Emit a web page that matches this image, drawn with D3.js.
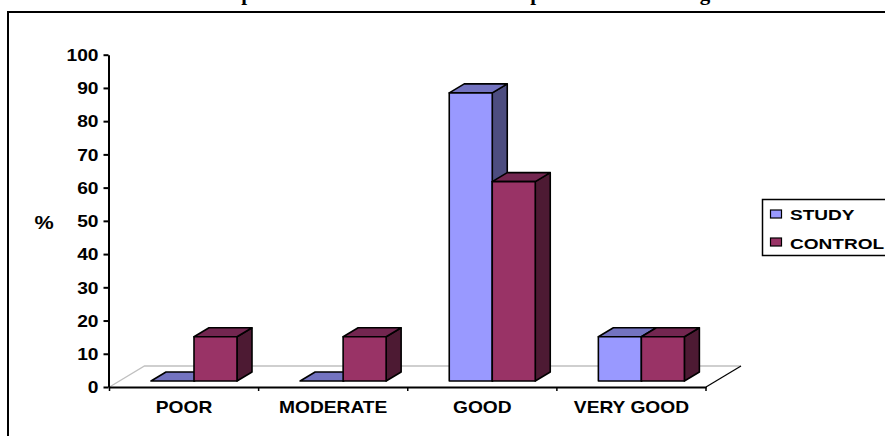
<!DOCTYPE html>
<html>
<head>
<meta charset="utf-8">
<script src="https://cdn.jsdelivr.net/npm/d3@7"></script>
<style>
  html, body { margin: 0; padding: 0; background: #fff; }
  svg { display: block; }
  text { fill: #000; font-family: "Liberation Sans", Arial, sans-serif; font-weight: bold; }
</style>
</head>
<body>
<svg id="chart" width="885" height="436"></svg>
<script>
// Percentages per rating group
const categories = ["POOR", "MODERATE", "GOOD", "VERY GOOD"];
const seriesNames = ["STUDY", "CONTROL"];
const studyValues = [0, 0, 86.7, 13.3];
const controlValues = [13.3, 13.3, 60, 13.3];
const yTicks = [0, 10, 20, 30, 40, 50, 60, 70, 80, 90, 100];
// Only the descenders of the heading stay inside the page
const headingGlyphs = [["p", 247], ["p", 536], ["g", 705]];

const faces = {
  STUDY:   { front: "#9999ff", top: "#7373c0", side: "#4d4d80" },
  CONTROL: { front: "#993366", top: "#732650", side: "#4d1a33" }
};

const svg = d3.select("#chart");
const W = 885, H = 436;

const x = d3.scaleBand().domain(categories).range([109.5, 706]);
const y = d3.scaleLinear().domain([0, 100]).range([387, 54.7]);
const inner = d3.scaleBand().domain(seriesNames).range([41.5, 41.5 + 86]);

// Oblique projection of the bars and of the floor
const barDepth = { dx: 15, dy: -9 };
const floorDepth = { dx: 35, dy: -21 };
const floorLift = 6;
const labelStretch = 1.2;

// Chart frame runs off the right and bottom of the page
svg.append("path")
  .attr("d", `M8,${H} V12 H${W}`)
  .attr("fill", "none").attr("stroke", "#000").attr("stroke-width", 2);

// Heading descenders
svg.append("g").selectAll("text").data(headingGlyphs).join("text")
  .attr("x", d => d[1]).attr("y", 0).attr("text-anchor", "middle")
  .style("font-family", '"Liberation Serif", serif')
  .style("font-size", "21px")
  .text(d => d[0]);

// Floor of the 3D plot
const [x0, x1] = x.range();
const floorY = y(0);
const floor = svg.append("g").attr("fill", "none");
floor.append("path")
  .attr("d", `M${x0},${floorY} l${floorDepth.dx},${floorDepth.dy} H${x1 + floorDepth.dx}`)
  .attr("stroke", "#c0c0c0").attr("stroke-width", 1.3);
floor.append("path")
  .attr("d", `M${x1},${floorY} l${floorDepth.dx},${floorDepth.dy}`)
  .attr("stroke", "#000").attr("stroke-width", 1.2);

// Bars: side and top faces first, front face last, control drawn over study
const rows = [];
categories.forEach((c, i) => {
  rows.push({ cat: c, series: "STUDY", value: studyValues[i] });
  rows.push({ cat: c, series: "CONTROL", value: controlValues[i] });
});
const bars = svg.append("g").attr("stroke", "#000").attr("stroke-width", 1.6).attr("stroke-linejoin", "round")
  .selectAll("g").data(rows).join("g");
const { dx, dy } = barDepth;
const geom = d => {
  const l = x(d.cat) + inner(d.series);
  const r = l + inner.bandwidth();
  const b = y(0) - floorLift;
  const t = y(d.value) - floorLift;
  return { l, r, b, t };
};
bars.append("path").attr("fill", d => faces[d.series].side).attr("d", d => {
  const { r, b, t } = geom(d);
  return `M${r},${b} V${t} l${dx},${dy} V${b + dy} Z`;
});
bars.append("path").attr("fill", d => faces[d.series].top).attr("d", d => {
  const { l, r, t } = geom(d);
  return `M${l},${t} H${r} l${dx},${dy} H${l + dx} Z`;
});
bars.append("rect").attr("fill", d => faces[d.series].front)
  .attr("x", d => geom(d).l).attr("y", d => geom(d).t)
  .attr("width", inner.bandwidth()).attr("height", d => geom(d).b - geom(d).t);

// Value axis; each label sits inside its tick group
const yAxis = svg.append("g").attr("transform", "translate(108.5,0)")
  .call(d3.axisLeft(y).tickValues(yTicks).tickSize(5).tickPadding(0).tickSizeOuter(0));
yAxis.selectAll("path, line").attr("stroke", "#000").attr("stroke-width", 2);
yAxis.selectAll("text")
  .attr("text-anchor", "end").attr("dy", null).attr("x", 0).attr("y", 0)
  .attr("transform", `translate(-10,5.8) scale(${labelStretch},1)`)
  .style("font-size", "16px");

// Category axis with separators on the band edges
const xAxis = svg.append("g").attr("transform", `translate(0,${floorY})`)
  .call(d3.axisBottom(x).tickSize(0).tickPadding(0));
xAxis.select(".domain").attr("stroke", "#000").attr("stroke-width", 2);
xAxis.selectAll("text")
  .attr("dy", null).attr("x", 0).attr("y", 0)
  .attr("transform", `translate(0,26) scale(${labelStretch},1)`)
  .style("font-size", "16px");
xAxis.selectAll("line.edge").data([...categories.map(c => x(c)), x1]).join("line")
  .attr("class", "edge").attr("x1", d => d).attr("x2", d => d).attr("y1", 0).attr("y2", 4)
  .attr("stroke", "#000").attr("stroke-width", 1.5);

// Axis unit
svg.append("text").attr("transform", `translate(44,229) scale(${labelStretch},1)`)
  .attr("text-anchor", "middle").style("font-size", "18px").text("%");

// Legend, its box cut by the page edge
svg.append("path").attr("d", `M${W},199.5 H762.5 V255.5 H${W}`)
  .attr("fill", "#fff").attr("stroke", "#000").attr("stroke-width", 1.5);
const legendRows = [{ name: "STUDY", box: 210, base: 220 }, { name: "CONTROL", box: 238, base: 249 }];
const legend = svg.append("g").selectAll("g").data(legendRows).join("g");
legend.append("rect").attr("x", 770.5).attr("y", d => d.box).attr("width", 11).attr("height", 8)
  .attr("fill", d => faces[d.name].front).attr("stroke", "#000").attr("stroke-width", 1.2);
legend.append("text").attr("transform", d => `translate(790,${d.base}) scale(${labelStretch + 0.03},1)`)
  .style("font-size", "15.5px").text(d => d.name);
</script>
</body>
</html>
